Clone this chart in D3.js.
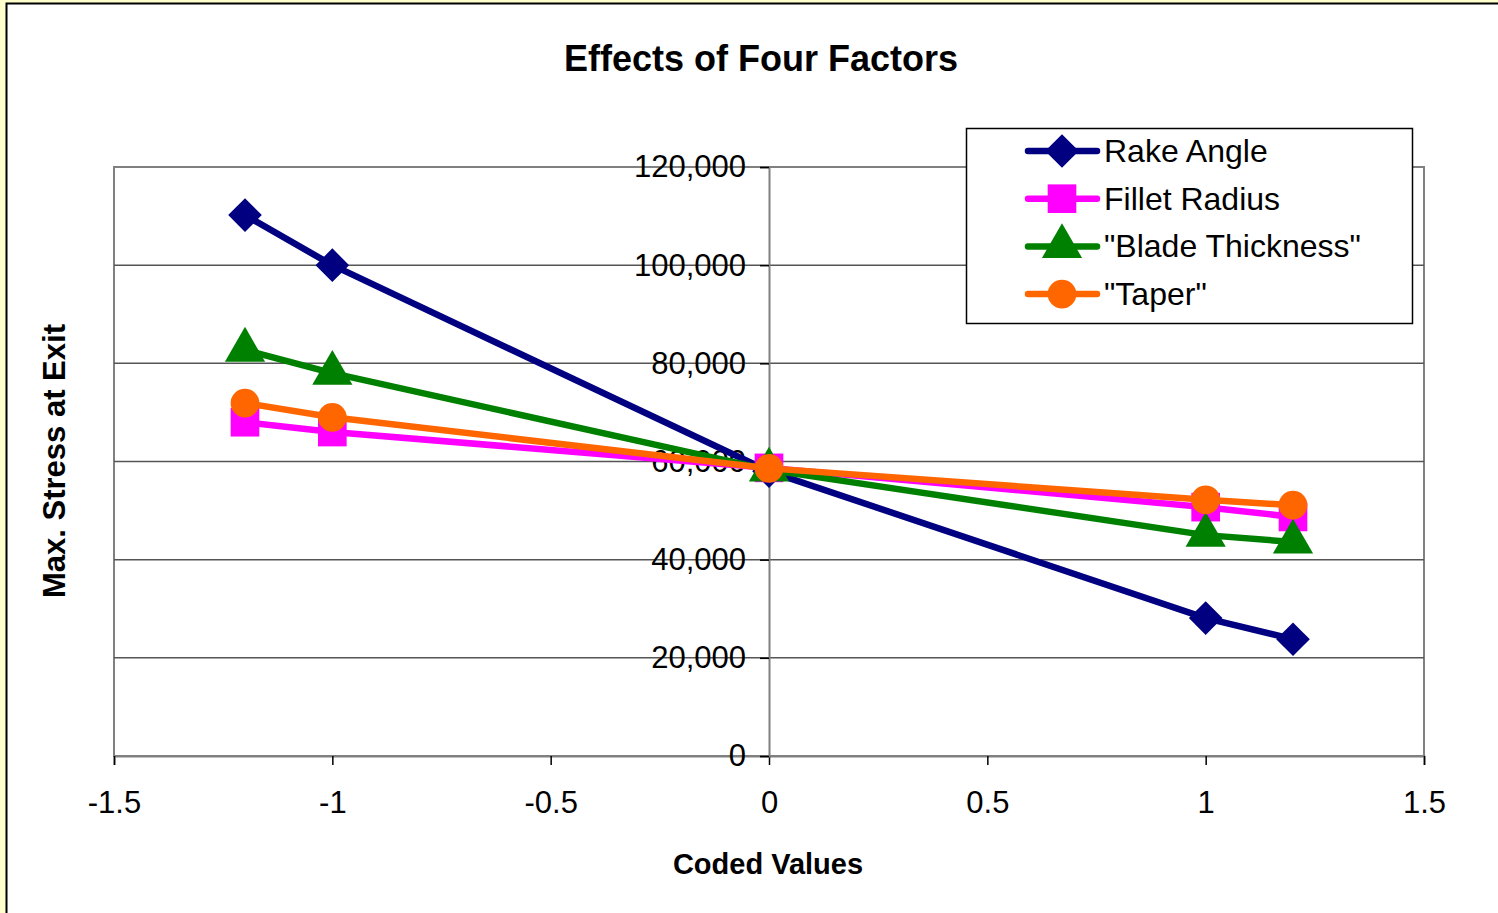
<!DOCTYPE html>
<html>
<head>
<meta charset="utf-8">
<script src="https://cdn.jsdelivr.net/npm/d3@7"></script>
<style>
  body { margin: 0; background: #ffffcc; }
  text { font-family: "Liberation Sans", Arial, sans-serif; fill: #000; }
</style>
</head>
<body>
<script>
'use strict';

// coded factor levels
let codedValues = [-1.2, -1, 0, 1, 1.2];

// series
let seriesNames = ["Rake Angle", "Fillet Radius", "\"Blade Thickness\"", "\"Taper\""];
let rakeAngle = [110200, 100000, 58000, 28100, 23800];
let filletRadius = [68000, 66000, 58700, 50700, 48700];
let bladeThickness = [82700, 78000, 58300, 45000, 43600];
let taper = [71900, 69000, 58600, 52200, 51100];

let xTicks = [-1.5, -1, -0.5, 0, 0.5, 1, 1.5];
let yTicks = [0, 20000, 40000, 60000, 80000, 100000, 120000];

let colors = ["#000080", "#ff00ff", "#008000", "#ff6600"];
let shapes = ["diamond", "square", "triangle", "circle"];

let width = 1498, height = 913;
let plot = {left: 114, right: 1424, top: 167, bottom: 756};

let svg = d3.select('body').append('svg')
  .attr('width', width)
  .attr('height', height);

// chart frame (yellow strip shows at top/left)
svg.append('rect')
  .attr('x', 6.5).attr('y', 3.5)
  .attr('width', width).attr('height', height)
  .attr('fill', '#fff')
  .attr('stroke', '#000')
  .attr('stroke-width', 2);

let xScale = d3.scaleLinear().domain([-1.5, 1.5]).range([plot.left, plot.right]);
let yScale = d3.scaleLinear().domain([0, 120000]).range([plot.bottom, plot.top]);

// plot area border
svg.append('rect')
  .attr('x', plot.left).attr('y', plot.top)
  .attr('width', plot.right - plot.left).attr('height', plot.bottom - plot.top)
  .attr('fill', 'none')
  .attr('stroke', '#808080')
  .attr('stroke-width', 2);

// horizontal gridlines
svg.append('g')
  .selectAll('line')
  .data(yTicks.filter((d) => d > 0 && d < 120000))
  .enter()
  .append('line')
    .attr('x1', plot.left).attr('x2', plot.right)
    .attr('y1', (d) => yScale(d)).attr('y2', (d) => yScale(d))
    .attr('stroke', '#555')
    .attr('stroke-width', 1.5);

// x axis along y = 0
let xAxis = d3.axisBottom(xScale)
  .tickValues(xTicks)
  .tickFormat((d) => String(d))
  .tickSize(9)
  .tickPadding(26);

let gx = svg.append('g')
  .attr('transform', 'translate(0,' + yScale(0) + ')')
  .call(xAxis);
gx.select('.domain').attr('stroke', '#808080').attr('stroke-width', 2);
gx.selectAll('.tick line').attr('stroke', '#000').attr('stroke-width', 1.5);
gx.selectAll('.tick text')
  .style('font-family', '"Liberation Sans", Arial, sans-serif')
  .style('font-size', '31px')
  .attr('fill', '#000');

// y axis along x = 0
let yAxis = d3.axisLeft(yScale)
  .tickValues(yTicks)
  .tickFormat(d3.format(','))
  .tickSize(9)
  .tickPadding(14);

let gy = svg.append('g')
  .attr('transform', 'translate(' + xScale(0) + ',0)')
  .call(yAxis);
gy.select('.domain').attr('stroke', '#808080').attr('stroke-width', 2);
gy.selectAll('.tick line').attr('stroke', '#000').attr('stroke-width', 1.5);
gy.selectAll('.tick text')
  .style('font-family', '"Liberation Sans", Arial, sans-serif')
  .style('font-size', '31px')
  .attr('fill', '#000');

// marker path generators
function markerPath(shape) {
  if (shape === 'diamond') return d3.symbol().type(d3.symbolDiamond2).size(720)();
  if (shape === 'square') return d3.symbol().type(d3.symbolSquare).size(820)();
  if (shape === 'triangle') return d3.symbol().type(d3.symbolTriangle).size(700)();
  return d3.symbol().type(d3.symbolCircle).size(650)();
}

let allSeries = [rakeAngle, filletRadius, bladeThickness, taper];

let line = d3.line()
  .x((d, i) => xScale(codedValues[i]))
  .y((d) => yScale(d));

allSeries.forEach((values, s) => {
  let g = svg.append('g');
  g.append('path')
    .datum(values)
    .attr('fill', 'none')
    .attr('stroke', colors[s])
    .attr('stroke-width', 6.5)
    .attr('stroke-linejoin', 'round')
    .attr('d', line);

  g.selectAll('path.marker')
    .data(values)
    .enter()
    .append('path')
      .attr('class', 'marker')
      .attr('transform', (d, i) => 'translate(' + xScale(codedValues[i]) + ',' + yScale(d) + ')')
      .attr('d', markerPath(shapes[s]))
      .attr('fill', colors[s]);
});

// title
svg.append('text')
  .attr('x', 761).attr('y', 71)
  .attr('text-anchor', 'middle')
  .style('font-size', '36px')
  .style('font-weight', 'bold')
  .text('Effects of Four Factors');

// axis titles
svg.append('text')
  .attr('x', 768).attr('y', 874)
  .attr('text-anchor', 'middle')
  .style('font-size', '29px')
  .style('font-weight', 'bold')
  .text('Coded Values');

svg.append('text')
  .attr('transform', 'translate(65, 461)rotate(-90)')
  .attr('text-anchor', 'middle')
  .style('font-size', '31px')
  .style('font-weight', 'bold')
  .text('Max. Stress at Exit');

// legend
let legend = svg.append('g');
legend.append('rect')
  .attr('x', 966.5).attr('y', 128.5)
  .attr('width', 446).attr('height', 195)
  .attr('fill', '#fff')
  .attr('stroke', '#000')
  .attr('stroke-width', 1.5);

seriesNames.forEach((name, s) => {
  let y = 151 + s * 47.7;
  legend.append('line')
    .attr('x1', 1028).attr('x2', 1097)
    .attr('y1', y).attr('y2', y)
    .attr('stroke', colors[s])
    .attr('stroke-width', 6.5)
    .attr('stroke-linecap', 'round');
  legend.append('path')
    .attr('transform', 'translate(1062,' + y + ')')
    .attr('d', markerPath(shapes[s]))
    .attr('fill', colors[s]);
  legend.append('text')
    .attr('x', 1104).attr('y', y + 11)
    .style('font-size', '32px')
    .text(name);
});
</script>
</body>
</html>
